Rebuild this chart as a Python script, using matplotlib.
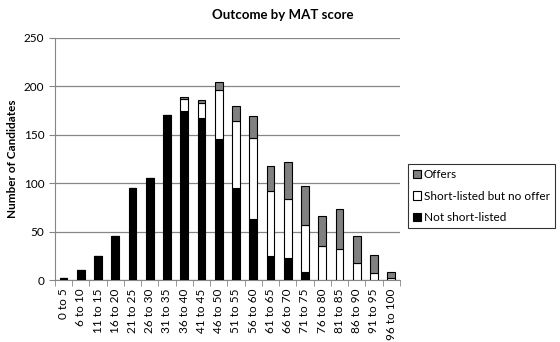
import numpy as np
import matplotlib.pyplot as plt

plt.rcParams['font.family'] = ['Lato', 'DejaVu Sans']

# MAT score bands and candidate counts per outcome
bands = ['0 to 5', '6 to 10', '11 to 15', '16 to 20', '21 to 25', '26 to 30',
         '31 to 35', '36 to 40', '41 to 45', '46 to 50', '51 to 55', '56 to 60',
         '61 to 65', '66 to 70', '71 to 75', '76 to 80', '81 to 85', '86 to 90',
         '91 to 95', '96 to 100']
not_shortlisted = [2, 10, 25, 46, 95, 105, 170, 175, 167, 146, 95, 63,
                   25, 23, 8, 0, 0, 0, 0, 0]
shortlisted_no_offer = [0, 0, 0, 0, 0, 0, 0, 12, 16, 50, 69, 84,
                        67, 61, 49, 35, 32, 18, 7, 2]
offers = [0, 0, 0, 0, 0, 0, 0, 2, 3, 9, 16, 22,
          26, 38, 40, 31, 41, 28, 19, 6]

x = np.arange(len(bands))
nsl = np.array(not_shortlisted)
sno = np.array(shortlisted_no_offer)
off = np.array(offers)

fig = plt.figure(figsize=(5.6, 3.42), dpi=100)
ax = fig.add_axes([0.098, 0.181, 0.616, 0.708])

w = 0.46
b1 = ax.bar(x, nsl, w, color='black', edgecolor='black', linewidth=0.8,
            label='Not short-listed', zorder=3)
b2 = ax.bar(x, sno, w, bottom=nsl, color='white', edgecolor='black',
            linewidth=0.8, label='Short-listed but no offer', zorder=3)
b3 = ax.bar(x, off, w, bottom=nsl + sno, color='#808080', edgecolor='black',
            linewidth=0.8, label='Offers', zorder=3)

ax.set_xlim(-0.5, len(bands) - 0.5)
ax.set_ylim(0, 250)
ax.set_yticks(range(0, 251, 50))
ax.yaxis.grid(True, color='#868686', linewidth=0.9, zorder=0)

ax.set_xticks(x)
ax.set_xticklabels(bands, rotation=90, fontsize=8.5)
ax.set_xticks(np.arange(-0.5, len(bands), 1), minor=True)
ax.tick_params(axis='x', which='major', length=0, pad=6)
ax.tick_params(axis='x', which='minor', length=4, color='#868686')
ax.tick_params(axis='y', labelsize=8.5, length=4, color='#868686')

for s in ['top', 'right']:
    ax.spines[s].set_visible(False)
for s in ['left', 'bottom']:
    ax.spines[s].set_color('#868686')

ax.set_ylabel('Number of Candidates', fontsize=8.5, fontweight='bold')
fig.text(0.505, 0.955, 'Outcome by MAT score', ha='center', va='center',
         fontsize=9.5, fontweight='bold')

leg = fig.legend(handles=[b3, b2, b1], loc='center left',
                 bbox_to_anchor=(408 / 560, 1 - 196 / 342), fontsize=8.5,
                 frameon=True, fancybox=False, edgecolor='black',
                 handlelength=0.7, handleheight=0.7, handletextpad=0.25,
                 labelspacing=0.9, borderpad=0.4, borderaxespad=0)
leg.get_frame().set_linewidth(0.8)

fig.savefig('out.png', dpi=100)
